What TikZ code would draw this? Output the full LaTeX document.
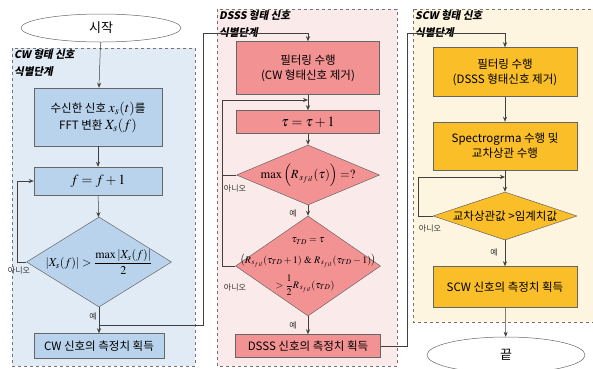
\documentclass[tikz,border=0pt]{standalone}
\usepackage{amsmath}
\usepackage{mathptmx}
\usepackage[no-math]{fontspec}
\setmainfont{Noto Sans CJK KR}
\newfontfamily\krsl{Noto Sans CJK KR}[FakeSlant=0.2]
\usetikzlibrary{shapes.geometric,arrows.meta}
\definecolor{cwpanel}{RGB}{224,235,246}
\definecolor{cwbox}{RGB}{185,211,236}
\definecolor{dspanel}{RGB}{251,234,234}
\definecolor{dsbox}{RGB}{243,146,146}
\definecolor{scpanel}{RGB}{253,245,224}
\definecolor{scbox}{RGB}{250,190,40}
\newcommand{\Rsf}{R_{\,s_{f\kern0.6pt il}}}
\begin{document}
\begin{tikzpicture}[x=1pt,y=-1pt,
  every node/.style={font=\fontsize{11.5}{15}\selectfont},
  panel/.style={draw=black!55, dashed, line width=0.6pt},
  panellabel/.style={anchor=north west, align=left, inner sep=0pt, font=\krsl\bfseries\fontsize{10.5}{17}\selectfont},
  boxbase/.style={draw=black!60, line width=0.5pt, inner sep=0pt, align=center},
  cwb/.style={boxbase, fill=cwbox},
  dsb/.style={boxbase, fill=dsbox},
  scb/.style={boxbase, fill=scbox},
  diabase/.style={diamond, draw=black!60, line width=0.5pt, inner sep=0pt},
  term/.style={ellipse, draw=black!60, fill=white, line width=0.5pt, inner sep=0pt, font=\fontsize{13}{15}\selectfont},
  arr/.style={draw=black!75, line width=0.5pt, -{Stealth[length=5pt,width=4pt]}},
  ln/.style={draw=black!75, line width=0.5pt},
  lab/.style={font=\fontsize{8}{9}\selectfont, text=black!80, inner sep=0pt}
]
\useasboundingbox (0,0) rectangle (593,368);
% panels
\draw[panel, fill=cwpanel] (12,48) rectangle (195,366);
\draw[panel, fill=dspanel] (217,9) rectangle (397,366);
\draw[panel, fill=scpanel] (413,9) rectangle (600,322);
\node[panellabel] (lcw) at (14,49) {CW 형태 신호\\식별단계};
\node[panellabel] (lds) at (219,10) {DSSS 형태 신호\\식별단계};
\node[panellabel] (lsc) at (415,10) {SCW 형태 신호\\식별단계};

% CW column
\node[term, minimum width=160pt, minimum height=28pt] (start) at (101,28) {시작};
\node[cwb, minimum width=128pt, minimum height=58pt] (b1) at (98,117)
  {수신한 신호 {\fontsize{14}{14}\selectfont$x_s(t)$}를\\[2pt] FFT 변환 {\fontsize{14}{14}\selectfont$X_s(f)$}};
\node[cwb, minimum width=128pt, minimum height=28pt, font=\fontsize{14}{16}\selectfont] (b2) at (98,181) {$f=f+1$};
\node[diabase, fill=cwbox, minimum width=145pt, minimum height=90pt] (cd) at (99,262) {};
\node[font=\fontsize{12}{14}\selectfont, inner sep=0pt] (cdt) at (cd) {$\left|X_s(f)\right|>\dfrac{\max\left|X_s(f)\right|}{2}$};
\node[cwb, minimum width=130pt, minimum height=25pt] (cf) at (99,346) {CW 신호의 측정치 획득};

% DSSS column
\node[dsb, minimum width=143pt, minimum height=53pt] (df) at (308,68) {필터링 수행\\(CW 형태신호 제거)};
\node[dsb, minimum width=143pt, minimum height=23pt, font=\fontsize{14}{16}\selectfont] (dt) at (308,122) {$\tau=\tau+1$};
\node[diabase, fill=dsbox, minimum width=143pt, minimum height=60pt] (dd1) at (308,175) {};
\node[font=\fontsize{12.5}{14}\selectfont, inner sep=0pt] (dd1t) at (dd1) {$\max\left(\Rsf(\tau)\right)=?$};
\node[diabase, fill=dsbox, minimum width=145pt, minimum height=100pt] (dd2) at (308,266) {};
\node[font=\fontsize{10}{12}\selectfont, inner sep=0pt] (dd2a) at (308,241) {$\tau_{TD}=\tau$};
\node[font=\fontsize{10}{12}\selectfont, inner sep=0pt] (dd2b) at (308,261)
  {$\bigl(\Rsf(\tau_{TD}+1)\ \&\ \Rsf(\tau_{TD}-1)\bigr)$};
\node[font=\fontsize{10}{12}\selectfont, inner sep=0pt] (dd2c) at (305,285)
  {$>\dfrac{1}{2}\Rsf(\tau_{TD})$};
\node[dsb, minimum width=145pt, minimum height=23pt] (dfin) at (308,346) {DSSS 신호의 측정치 획득};

% SCW column
\node[scb, minimum width=144pt, minimum height=49pt] (sf) at (505,72) {필터링 수행\\(DSSS 형태신호 제거)};
\node[scb, minimum width=144pt, minimum height=48pt] (sp) at (505,146) {Spectrogrma 수행 및\\교차상관 수행};
\node[diabase, fill=scbox, minimum width=144pt, minimum height=48pt] (sd) at (505,216) {};
\node[inner sep=0pt] (sdt) at (sd) {교차상관값 >임계치값};
\node[scb, minimum width=144pt, minimum height=41pt] (sfin) at (505,287) {SCW 신호의 측정치 획득};
\node[term, minimum width=158pt, minimum height=36pt] (end) at (506,355) {끝};

% coordinates
\coordinate (c1) at (17,262);
\coordinate (j1) at (99,325);
\coordinate (c2) at (203,325);
\coordinate (c3) at (203,33);
\coordinate (j2) at (308,100);
\coordinate (c4) at (222,266);
\coordinate (c5) at (222,175);
\coordinate (c6) at (407,346);
\coordinate (c7) at (407,33);
\coordinate (j3) at (505,177);
\coordinate (c8) at (418,216);

% CW edges
\draw[arr] (start) -- (b1);
\draw[arr] (b1) -- (b2);
\draw[arr] (b2) -- (cd);
\draw[arr] (cd.west) -- (c1) |- (b2.west);
\draw[arr] (cd.south) -- (cf.north);
\draw[arr] (j1) -- (c2) -- (c3) -| (df.north);

% DSSS edges
\draw[arr] (df) -- (dt);
\draw[arr] (dd2.west) -- (c4) |- (j2);
\draw[ln] (dd1.west) -- (c5);
\draw[arr] (dt) -- (dd1);
\draw[arr] (dd1) -- (dd2);
\draw[arr] (dd2) -- (dfin);
\draw[arr] (dfin.east) -- (c6) -- (c7) -| (sf.north);

% SCW edges
\draw[arr] (sf) -- (sp);
\draw[arr] (sp) -- (sd);
\draw[arr] (sd.west) -- (c8) |- (j3);
\draw[arr] (sd) -- (sfin);
\draw[arr] (sfin) -- (end);

% yes/no labels
\node[lab] (n1) at (19,270) {아니오};
\node[lab] (y1) at (93,316) {예};
\node[lab] (n2) at (235,188) {아니오};
\node[lab] (y2) at (293,213) {예};
\node[lab] (n3) at (235,287) {아니오};
\node[lab] (y3) at (293,325) {예};
\node[lab] (n4) at (430,228) {아니오};
\node[lab] (y4) at (494,252) {예};
\end{tikzpicture}
\end{document}
